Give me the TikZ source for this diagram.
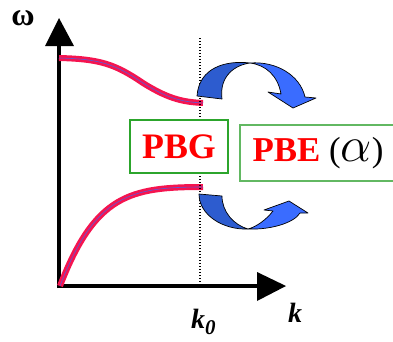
\documentclass[tikz,border=0pt]{standalone}
\usepackage{fontspec}
\usepackage{graphicx}
\setmainfont{Liberation Serif}
\definecolor{bandred}{HTML}{F5144F}
\definecolor{bandblue}{HTML}{5A5AD8}
\definecolor{darkarrow}{HTML}{2D5CCF}
\definecolor{lightarrow}{HTML}{3A6CFF}
\definecolor{boxgreenA}{HTML}{2CA52C}
\definecolor{boxgreenB}{HTML}{62B862}
\tikzset{
  axisline/.style={line width=3.4bp, black},
  axishead/.style={fill=black, draw=none},
  bandouter/.style={line width=6bp, bandred},
  bandinner/.style={line width=0.6bp, bandblue},
  dotline/.style={line width=1.4bp, dash pattern=on 1.4bp off 1.6bp},
  darkpart/.style={fill=darkarrow, draw=black, line width=0.7bp, line join=round},
  lightpart/.style={fill=lightarrow, draw=black, line width=0.7bp, line join=round},
  gapbox/.style={draw=boxgreenA, line width=1.2bp, fill=white, minimum width=98bp, minimum height=53bp, inner sep=0pt, text=red, font=\fontsize{36}{40}\selectfont\bfseries},
  edgebox/.style={draw=boxgreenB, line width=1.2bp, fill=white, minimum width=156bp, minimum height=56bp, inner sep=0pt, font=\fontsize{35}{40}\selectfont},
  axlabel/.style={inner sep=0pt, font=\fontsize{28}{30}\selectfont\bfseries\itshape},
}
\begin{document}
\begin{tikzpicture}[x=1bp,y=-1bp]
\useasboundingbox (0,0) rectangle (393,342);
\clip (0,0) rectangle (393,342);
% axes
\draw[axisline] (59,288) -- (59,44);
\fill[axishead] (45,46) -- (74,46) -- (59,18) -- cycle;
\draw[axisline] (57,286) -- (259,286);
\fill[axishead] (257,272) -- (257,301) -- (286,286) -- cycle;
% bands
\draw[bandouter] (59,58) .. controls (100,59) and (115,64) .. (143,83) .. controls (170,100) and (185,102) .. (203,103);
\draw[bandinner] (59,58) .. controls (100,59) and (115,64) .. (143,83) .. controls (170,100) and (185,102) .. (203,103);
\draw[bandouter] (60,286) .. controls (95,195) and (130,187) .. (203,187);
\draw[bandinner] (60,286) .. controls (95,195) and (130,187) .. (203,187);
% dotted line
\coordinate (ktop) at (200,38);
\coordinate (kbot) at (200,286);
\draw[dotline] (ktop) -- (kbot);
% upper curved arrow
\path[darkpart] (197,96) .. controls (199,68) and (225,60) .. (250,63) .. controls (235,65) and (219,76) .. (222,99) -- cycle;
\path[lightpart] (250,63) .. controls (276,61) and (300,75) .. (305,97) -- (316,98) -- (293,108) -- (268,92) -- (281,94) .. controls (278,76) and (266,65) .. (250,63) -- cycle;
% lower curved arrow
\path[darkpart] (199,194) .. controls (199,215) and (223,230) .. (248,229) .. controls (234,225) and (222,212) .. (222,196) -- cycle;
\path[lightpart] (248,229) .. controls (270,230) and (294,223) .. (300,213) -- (308,213) -- (289,201) -- (264,210) -- (273,211) .. controls (266,220) and (256,227) .. (248,229) -- cycle;
% boxes
\node[gapbox] (pbg) at (179,146.5) {PBG};
\node[edgebox] (pbe) at (318,153) {\textcolor{red}{\bfseries PBE} (\scalebox{2}{\(\alpha\)})};
% labels
\node[inner sep=0pt, font=\fontsize{32}{34}\selectfont\bfseries] (omega) at (23,18) {ω};
\node[axlabel, anchor=base] (kx) at (295,322) {k};
\node[axlabel, anchor=base west] (k0) at (191,328) {k\raisebox{-6bp}{\fontsize{21}{21}\selectfont 0}};
\end{tikzpicture}
\end{document}
